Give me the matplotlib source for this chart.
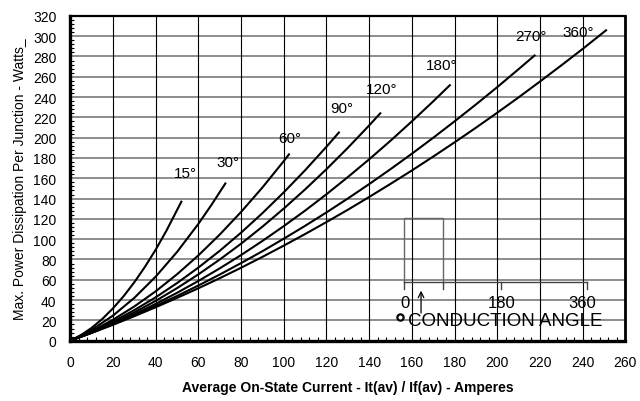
import matplotlib
matplotlib.use("Agg")
import matplotlib.pyplot as plt
from matplotlib.ticker import MultipleLocator
import matplotlib.font_manager as fm

names = {f.name for f in fm.fontManager.ttflist}
NARROW = 'Liberation Sans Narrow' if 'Liberation Sans Narrow' in names else 'Liberation Sans'
plt.rcParams['font.family'] = ['Liberation Sans', 'DejaVu Sans']

# ---- data ----
angle_labels = ["15°", "30°", "60°", "90°", "120°", "180°", "270°", "360°"]

x15 = [0, 5, 10, 15, 20, 25, 30, 35, 40, 45, 52]
y15 = [0, 5.6, 12.7, 21.5, 32, 44, 57.7, 73, 89.8, 108.4, 137]

x30 = [0, 10, 20, 30, 40, 50, 60, 66, 72.6]
y30 = [0, 10.7, 24.8, 42.3, 63.2, 87.5, 115.2, 133.5, 154.9]

x60 = [0, 10, 20, 30, 40, 50, 60, 70, 80, 90, 100, 102.4]
y60 = [0, 9.4, 20.7, 33.8, 48.7, 65.5, 84.1, 104.6, 126.9, 151, 177, 183.5]

x90 = [0, 10, 20, 30, 40, 50, 60, 70, 80, 90, 100, 110, 120, 125.8]
y90 = [0, 8.8, 18.8, 30.2, 42.8, 56.8, 72.1, 88.6, 106.5, 125.7, 146.2, 168, 191.1, 205.1]

x120 = [0, 10, 20, 30, 40, 50, 60, 70, 80, 90, 100, 110, 120, 130, 140, 145.2]
y120 = [0, 8.2, 17.5, 27.9, 39.3, 51.8, 65.4, 80, 95.6, 112.4, 130.2, 149.1, 169, 190, 212.1, 224]

x180 = [0, 10, 20, 30, 40, 50, 60, 70, 80, 90, 100, 110, 120, 130, 140, 150, 160, 170, 177.8]
y180 = [0, 8, 16.7, 26.1, 36.3, 47.2, 58.9, 71.3, 84.4, 98.3, 112.9, 128.2, 144.3, 161.2, 178.7, 197, 216.1, 235.8, 251.7]

x270 = [0, 10, 20, 30, 40, 50, 60, 70, 80, 90, 100, 110, 120, 130, 140, 150, 160, 170, 180, 190, 200, 210, 217.5]
y270 = [0, 7.8, 16.2, 25, 34.3, 44.1, 54.4, 65.2, 76.5, 88.2, 100.5, 113.2, 126.4, 140.1, 154.3, 169, 184.2, 199.9, 216.1, 232.7, 249.8, 267.5, 281]

x360 = [0, 10, 20, 30, 40, 50, 60, 70, 80, 90, 100, 110, 120, 130, 140, 150, 160, 170, 180, 190, 200, 210, 220, 230, 240, 251]
y360 = [0, 7.7, 15.7, 24.2, 33, 42.2, 51.7, 61.6, 71.9, 82.6, 93.7, 105.1, 116.9, 129, 141.6, 154.5, 167.7, 181.4, 195.4, 209.8, 224.6, 239.7, 255.3, 271.2, 287.4, 305.8]

label_x = [54, 74, 103, 127, 146, 174, 216, 238]
label_y = [165, 176, 200, 229, 248, 272, 300, 304.5]

x_ticks = list(range(0, 261, 20))
y_ticks = list(range(0, 321, 20))

inset_tick_labels = ["0", "180", "360"]

curves = [(x15, y15), (x30, y30), (x60, y60), (x90, y90), (x120, y120),
          (x180, y180), (x270, y270), (x360, y360)]

fig = plt.figure(figsize=(6.4, 4.02), dpi=100)
ax = fig.add_axes([0.11, 0.15, 0.867, 0.808])
ax.set_xlim(0, 260)
ax.set_ylim(0, 320)

# grid
for yv in y_ticks[1:]:
    ax.axhline(yv, color='#7a7a7a', lw=1.2, zorder=1)
for xv in x_ticks[1:]:
    ax.axvline(xv, color='black', lw=0.8, zorder=1)

for (xs, ys) in curves:
    ax.plot(xs, ys, color='black', lw=1.5, zorder=3)

for lab, lx, ly in zip(angle_labels, label_x, label_y):
    ax.text(lx, ly, lab, fontsize=11, ha='center', va='center', zorder=4)

ax.set_xticks(x_ticks)
ax.set_yticks(y_ticks)
ax.xaxis.set_minor_locator(MultipleLocator(4))
ax.yaxis.set_minor_locator(MultipleLocator(4))
ax.tick_params(which='major', length=0, labelsize=10, pad=10)
ax.tick_params(which='minor', direction='in', length=3, width=0.8, color='black')
ax.tick_params(axis='x', which='minor', top=False)
ax.tick_params(axis='y', which='minor', right=False)

ax.spines['left'].set_linewidth(2.4)
ax.spines['bottom'].set_linewidth(2.4)
ax.spines['right'].set_linewidth(2.0)
ax.spines['top'].set_linewidth(1.6)

ax.set_xlabel("Average On-State Current - It(av) / If(av) - Amperes",
              fontsize=10, fontweight='bold', labelpad=8)
ax.set_ylabel("Max. Power Dissipation Per Junction - Watts_",
              fontsize=10, family=[NARROW, 'Liberation Sans'], labelpad=4)

# inset conduction-angle diagram
ax.plot([156.5, 156.5, 174.7, 174.7], [57.5, 120.5, 120.5, 57.5], color='#666666', lw=1.0, zorder=4)
ax.plot([156.5, 242], [57.5, 57.5], color='#444444', lw=1.0, zorder=4)
for tx in [156.5, 174.7, 201.6, 242]:
    ax.plot([tx, tx], [57.5, 51], color='#444444', lw=1.0, zorder=4)
ax.annotate("", xy=(164.3, 52), xytext=(164.3, 24.5),
            arrowprops=dict(arrowstyle='->', color='black', lw=0.9), zorder=5)
for lab, tx in zip(inset_tick_labels, [157, 202.2, 240]):
    ax.text(tx, 38, lab, fontsize=12, ha='center', va='center',
            family=[NARROW, 'Liberation Sans'], zorder=5)
ax.plot([154.5], [23], marker='o', ms=4.5, mfc='white', mec='black', mew=1.6, zorder=5)
ax.text(158.4, 19.5, "CONDUCTION ANGLE", fontsize=13.5, ha='left', va='center',
        family=[NARROW, 'Liberation Sans'], zorder=5)

fig.savefig("out.png", dpi=100)
